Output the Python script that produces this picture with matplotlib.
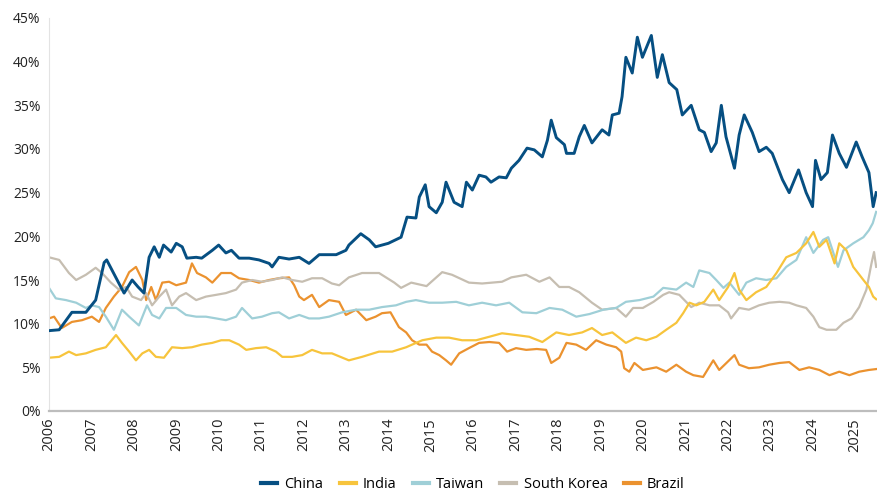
import matplotlib
matplotlib.use("Agg")
import matplotlib.pyplot as plt
from matplotlib.ticker import FuncFormatter

# ---- data (share of index, %) ----
china_t = [2006.0, 2006.24, 2006.54, 2006.87, 2007.1, 2007.3, 2007.36, 2007.65, 2007.77, 2007.96,
           2008.1, 2008.24, 2008.36, 2008.48, 2008.6, 2008.7, 2008.88, 2009.0, 2009.14, 2009.25,
           2009.47, 2009.6, 2009.85, 2010.0, 2010.17, 2010.3, 2010.48, 2010.72, 2010.95, 2011.19,
           2011.26, 2011.42, 2011.66, 2011.9, 2012.13, 2012.37, 2012.77, 2013.0, 2013.07, 2013.35,
           2013.55, 2013.7, 2014.0, 2014.3, 2014.44, 2014.65, 2014.73, 2014.87, 2014.96, 2015.13,
           2015.27, 2015.36, 2015.55, 2015.74, 2015.84, 2015.98, 2016.14, 2016.3, 2016.42, 2016.61,
           2016.78, 2016.9, 2017.08, 2017.27, 2017.44, 2017.63, 2017.75, 2017.84, 2017.96, 2018.15,
           2018.2, 2018.38, 2018.5, 2018.62, 2018.8, 2019.04, 2019.2, 2019.28, 2019.44, 2019.51,
           2019.6, 2019.75, 2019.87, 2019.99, 2020.2, 2020.34, 2020.46, 2020.62, 2020.8, 2020.93,
           2021.14, 2021.33, 2021.45, 2021.61, 2021.73, 2021.85, 2021.96, 2022.16, 2022.27, 2022.39,
           2022.58, 2022.74, 2022.91, 2023.05, 2023.29, 2023.45, 2023.67, 2023.85, 2024.0, 2024.07,
           2024.2, 2024.35, 2024.47, 2024.63, 2024.8, 2025.03, 2025.17, 2025.33, 2025.43, 2025.5]
china_v = [9.2, 9.3, 11.3, 11.3, 12.7, 17.0, 17.3, 14.6, 13.5, 15.0,
           14.2, 13.5, 17.6, 18.8, 17.6, 19.0, 18.2, 19.2, 18.8, 17.5,
           17.6, 17.5, 18.4, 19.0, 18.1, 18.4, 17.5, 17.5, 17.3, 16.9,
           16.5, 17.6, 17.4, 17.6, 16.9, 17.9, 17.9, 18.4, 19.0, 20.3,
           19.6, 18.8, 19.2, 19.9, 22.2, 22.1, 24.5, 25.9, 23.4, 22.7,
           23.9, 26.2, 23.9, 23.4, 26.2, 25.3, 27.0, 26.8, 26.2, 26.8,
           26.7, 27.8, 28.7, 30.1, 29.9, 29.1, 31.0, 33.3, 31.3, 30.5,
           29.5, 29.5, 31.4, 32.7, 30.7, 32.2, 31.6, 33.9, 34.1, 36.0,
           40.5, 38.7, 42.8, 40.5, 43.0, 38.2, 40.8, 37.6, 36.8, 33.9,
           35.0, 32.2, 31.9, 29.7, 30.7, 35.0, 31.4, 27.8, 31.6, 33.9,
           31.9, 29.7, 30.2, 29.5, 26.5, 25.0, 27.6, 25.0, 23.4, 28.7,
           26.5, 27.3, 31.6, 29.5, 27.9, 30.8, 29.1, 27.3, 23.4, 25.0]

india_t = [2006.0, 2006.24, 2006.47, 2006.64, 2006.87, 2007.1, 2007.34, 2007.58, 2007.72, 2007.89,
           2008.05, 2008.2, 2008.36, 2008.52, 2008.71, 2008.9, 2009.14, 2009.37, 2009.6, 2009.85,
           2010.06, 2010.25, 2010.48, 2010.65, 2010.88, 2011.12, 2011.35, 2011.5, 2011.73, 2011.97,
           2012.2, 2012.44, 2012.67, 2013.07, 2013.38, 2013.78, 2014.09, 2014.42, 2014.56, 2014.8,
           2015.13, 2015.43, 2015.74, 2016.07, 2016.38, 2016.68, 2017.01, 2017.32, 2017.63, 2017.96,
           2018.26, 2018.57, 2018.8, 2019.04, 2019.28, 2019.6, 2019.84, 2020.08, 2020.32, 2020.55,
           2020.79, 2020.95, 2021.1, 2021.26, 2021.45, 2021.66, 2021.8, 2022.01, 2022.16, 2022.27,
           2022.44, 2022.67, 2022.91, 2023.15, 2023.38, 2023.62, 2023.85, 2024.02, 2024.16, 2024.33,
           2024.52, 2024.63, 2024.8, 2024.96, 2025.2, 2025.33, 2025.43, 2025.5]
india_v = [6.1, 6.2, 6.8, 6.4, 6.6, 7.0, 7.3, 8.7, 7.8, 6.8,
           5.8, 6.6, 7.0, 6.2, 6.1, 7.3, 7.2, 7.3, 7.6, 7.8,
           8.1, 8.1, 7.6, 7.0, 7.2, 7.3, 6.8, 6.2, 6.2, 6.4,
           7.0, 6.6, 6.6, 5.8, 6.2, 6.8, 6.8, 7.3, 7.6, 8.1,
           8.4, 8.4, 8.1, 8.1, 8.5, 8.9, 8.7, 8.5, 7.9, 9.0,
           8.7, 9.0, 9.5, 8.7, 9.0, 7.8, 8.4, 8.1, 8.5, 9.3,
           10.1, 11.2, 12.4, 12.1, 12.5, 13.9, 12.7, 14.2, 15.8, 13.9,
           12.7, 13.6, 14.2, 15.8, 17.6, 18.1, 19.2, 20.5, 18.8, 19.6,
           16.9, 19.2, 18.4, 16.5, 15.0, 14.2, 13.1, 12.8]

taiwan_t = [2006.0, 2006.16, 2006.4, 2006.64, 2006.87, 2007.01, 2007.18, 2007.34, 2007.53, 2007.72,
            2007.89, 2008.12, 2008.31, 2008.43, 2008.6, 2008.76, 2009.0, 2009.23, 2009.47, 2009.7,
            2009.94, 2010.17, 2010.41, 2010.55, 2010.79, 2011.02, 2011.26, 2011.42, 2011.66, 2011.9,
            2012.13, 2012.37, 2012.6, 2012.91, 2013.24, 2013.55, 2013.85, 2014.18, 2014.42, 2014.65,
            2014.96, 2015.27, 2015.6, 2015.9, 2016.21, 2016.54, 2016.85, 2017.16, 2017.49, 2017.8,
            2018.1, 2018.43, 2018.74, 2019.07, 2019.37, 2019.6, 2019.92, 2020.25, 2020.48, 2020.79,
            2021.02, 2021.19, 2021.33, 2021.57, 2021.73, 2021.9, 2022.04, 2022.27, 2022.44, 2022.67,
            2022.91, 2023.15, 2023.38, 2023.62, 2023.85, 2024.02, 2024.25, 2024.37, 2024.6, 2024.73,
            2024.96, 2025.2, 2025.33, 2025.42, 2025.5]
taiwan_v = [14.1, 12.9, 12.7, 12.4, 11.8, 12.1, 11.9, 10.8, 9.3, 11.6,
            10.8, 9.8, 12.1, 11.0, 10.6, 11.8, 11.8, 11.0, 10.8, 10.8,
            10.6, 10.4, 10.8, 11.8, 10.6, 10.8, 11.2, 11.3, 10.6, 11.0,
            10.6, 10.6, 10.8, 11.3, 11.6, 11.6, 11.9, 12.1, 12.5, 12.7,
            12.4, 12.4, 12.5, 12.1, 12.4, 12.1, 12.4, 11.3, 11.2, 11.8,
            11.6, 10.8, 11.1, 11.6, 11.8, 12.5, 12.7, 13.1, 14.1, 13.9,
            14.7, 14.2, 16.1, 15.8, 15.0, 14.1, 14.7, 13.3, 14.7, 15.2,
            15.0, 15.2, 16.5, 17.3, 19.9, 18.1, 19.6, 19.9, 16.5, 18.4,
            19.2, 19.9, 20.7, 21.5, 22.8]

korea_t = [2006.0, 2006.24, 2006.47, 2006.64, 2006.87, 2007.1, 2007.25, 2007.46, 2007.65, 2007.82,
           2007.96, 2008.17, 2008.29, 2008.43, 2008.6, 2008.76, 2008.9, 2009.07, 2009.23, 2009.47,
           2009.7, 2009.94, 2010.17, 2010.41, 2010.55, 2010.79, 2011.02, 2011.26, 2011.5, 2011.73,
           2011.97, 2012.2, 2012.44, 2012.67, 2012.84, 2013.07, 2013.38, 2013.78, 2014.14, 2014.3,
           2014.54, 2014.9, 2015.27, 2015.5, 2015.9, 2016.21, 2016.68, 2016.9, 2017.25, 2017.56,
           2017.8, 2018.03, 2018.26, 2018.5, 2018.8, 2019.04, 2019.37, 2019.6, 2019.77, 2020.0,
           2020.25, 2020.48, 2020.62, 2020.86, 2021.02, 2021.14, 2021.33, 2021.57, 2021.8, 2022.01,
           2022.08, 2022.27, 2022.5, 2022.74, 2022.98, 2023.22, 2023.45, 2023.62, 2023.85, 2024.02,
           2024.16, 2024.33, 2024.56, 2024.73, 2024.92, 2025.1, 2025.27, 2025.39, 2025.45, 2025.5]
korea_v = [17.6, 17.3, 15.8, 15.0, 15.6, 16.4, 15.8, 14.7, 13.9, 14.2,
           13.1, 12.7, 13.5, 12.1, 13.1, 13.9, 12.1, 13.1, 13.5, 12.7,
           13.1, 13.3, 13.5, 13.9, 14.7, 15.0, 14.8, 15.0, 15.3, 15.0,
           14.8, 15.2, 15.2, 14.6, 14.4, 15.3, 15.8, 15.8, 14.7, 14.1,
           14.7, 14.3, 15.9, 15.6, 14.7, 14.6, 14.8, 15.3, 15.6, 14.8,
           15.3, 14.2, 14.2, 13.6, 12.4, 11.6, 11.8, 10.8, 11.8, 11.8,
           12.5, 13.3, 13.6, 13.3, 12.5, 11.9, 12.4, 12.1, 12.1, 11.3,
           10.6, 11.8, 11.6, 12.1, 12.4, 12.5, 12.4, 12.1, 11.8, 10.8,
           9.6, 9.3, 9.3, 10.1, 10.6, 11.9, 13.9, 16.9, 18.2, 16.5]

brazil_t = [2006.0, 2006.12, 2006.3, 2006.54, 2006.78, 2007.01, 2007.18, 2007.34, 2007.53, 2007.72,
            2007.89, 2008.05, 2008.2, 2008.29, 2008.41, 2008.52, 2008.67, 2008.83, 2009.0, 2009.23,
            2009.37, 2009.49, 2009.7, 2009.85, 2010.06, 2010.29, 2010.48, 2010.72, 2010.95, 2011.19,
            2011.42, 2011.66, 2011.78, 2011.9, 2012.01, 2012.2, 2012.37, 2012.6, 2012.84, 2013.0,
            2013.24, 2013.48, 2013.7, 2013.85, 2014.05, 2014.25, 2014.42, 2014.56, 2014.73, 2014.9,
            2015.03, 2015.2, 2015.36, 2015.48, 2015.67, 2015.9, 2016.14, 2016.38, 2016.61, 2016.8,
            2017.01, 2017.25, 2017.5, 2017.72, 2017.84, 2018.03, 2018.2, 2018.43, 2018.66, 2018.9,
            2019.14, 2019.37, 2019.49, 2019.56, 2019.68, 2019.8, 2020.0, 2020.32, 2020.55, 2020.79,
            2021.02, 2021.19, 2021.42, 2021.66, 2021.8, 2021.97, 2022.16, 2022.27, 2022.5, 2022.74,
            2022.98, 2023.22, 2023.45, 2023.69, 2023.92, 2024.16, 2024.4, 2024.63, 2024.87, 2025.1,
            2025.33, 2025.5]
brazil_v = [10.6, 10.8, 9.5, 10.2, 10.4, 10.8, 10.2, 11.8, 13.1, 14.2,
            15.9, 16.5, 15.0, 12.7, 14.2, 12.7, 14.7, 14.8, 14.4, 14.7,
            16.9, 15.8, 15.3, 14.7, 15.8, 15.8, 15.2, 15.0, 14.7, 15.0,
            15.2, 15.3, 14.4, 13.1, 12.7, 13.3, 11.9, 12.7, 12.5, 11.0,
            11.6, 10.4, 10.8, 11.2, 11.3, 9.6, 9.0, 8.1, 7.6, 7.6,
            6.8, 6.4, 5.8, 5.3, 6.6, 7.2, 7.8, 7.9, 7.8, 6.8,
            7.2, 7.0, 7.1, 7.0, 5.5, 6.1, 7.8, 7.6, 7.0, 8.1,
            7.6, 7.3, 6.8, 4.9, 4.5, 5.5, 4.7, 5.0, 4.5, 5.3,
            4.5, 4.1, 3.9, 5.8, 4.7, 5.5, 6.4, 5.3, 4.9, 5.0,
            5.3, 5.5, 5.6, 4.7, 5.0, 4.7, 4.1, 4.5, 4.1, 4.5,
            4.7, 4.8]

year_ticks = list(range(2006, 2026))
y_ticks = [0, 5, 10, 15, 20, 25, 30, 35, 40, 45]

# ---- plot ----
plt.rcParams['font.family'] = ['Open Sans', 'DejaVu Sans']
fig = plt.figure(figsize=(8.77, 4.93), dpi=100)
ax = fig.add_axes([49 / 877, 82 / 493, 828 / 877, 393 / 493])

ax.plot(brazil_t, brazil_v, color='#eb922f', lw=1.6, label='Brazil', zorder=2)
ax.plot(korea_t, korea_v, color='#c6beb1', lw=1.6, label='South Korea', zorder=2)
ax.plot(taiwan_t, taiwan_v, color='#9fcfd7', lw=1.6, label='Taiwan', zorder=2)
ax.plot(india_t, india_v, color='#f7c43c', lw=1.6, label='India', zorder=2)
ax.plot(china_t, china_v, color='#064f82', lw=2.1, label='China', zorder=3)

ax.set_xlim(2006, 2025.52)
ax.set_ylim(0, 45)
ax.set_xticks(year_ticks)
ax.set_xticklabels([str(y) for y in year_ticks], rotation=90, fontsize=10.5, color='#222222')
ax.set_yticks(y_ticks)
ax.yaxis.set_major_formatter(FuncFormatter(lambda v, p: f"{int(v)}%"))
ax.tick_params(axis='y', length=0, pad=6, labelsize=10, labelcolor='#222222')
ax.tick_params(axis='x', length=0, pad=5)

for s in ['top', 'right']:
    ax.spines[s].set_visible(False)
ax.spines['left'].set_color('#e3e3e3')
ax.spines['left'].set_linewidth(0.8)
ax.spines['bottom'].set_color('#bdbdbd')
ax.spines['bottom'].set_linewidth(1.6)

handles, labels = ax.get_legend_handles_labels()
order = ['China', 'India', 'Taiwan', 'South Korea', 'Brazil']
hmap = dict(zip(labels, handles))
leg = fig.legend([hmap[k] for k in order], order, loc='center', bbox_to_anchor=(473 / 877, 8 / 493),
                 ncol=5, frameon=False, fontsize=10.5, handlelength=1.1, handletextpad=0.5,
                 columnspacing=1.1)
for line in leg.get_lines():
    line.set_linewidth(3)

fig.savefig('out.png', dpi=100)
